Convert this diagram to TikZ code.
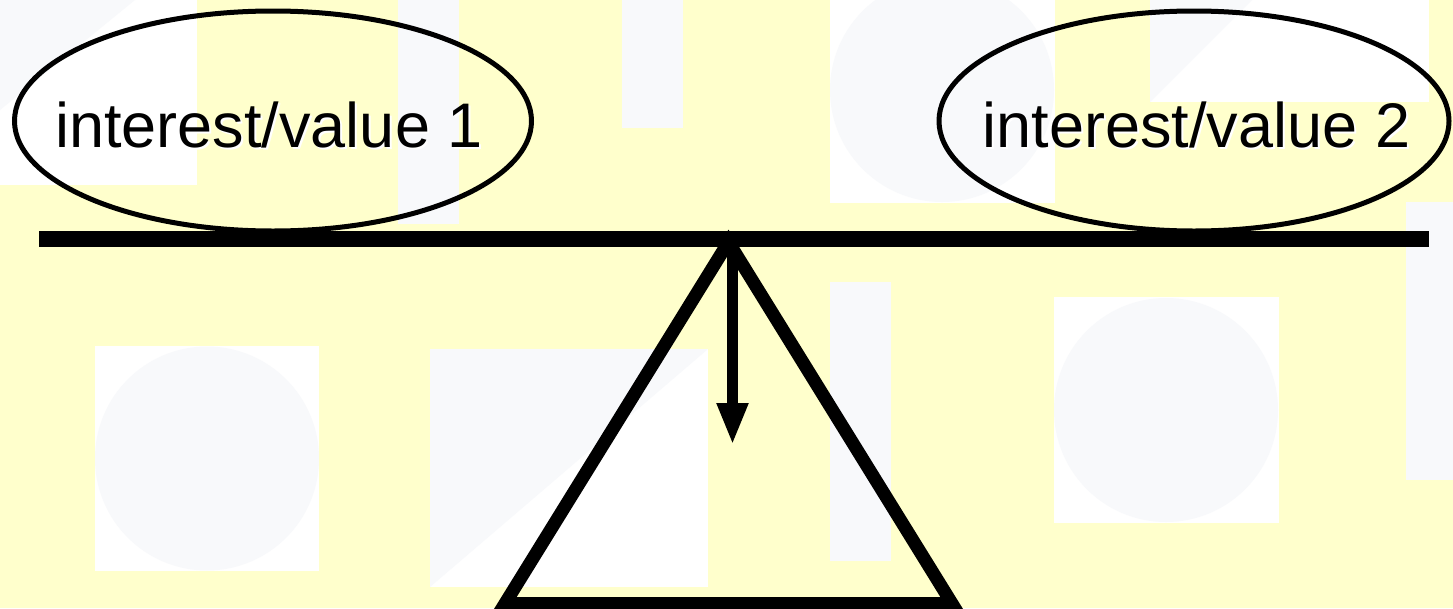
\documentclass[tikz,border=0pt]{standalone}
\usepackage{fontspec}
\setmainfont{Liberation Sans}
\usetikzlibrary{arrows.meta,shapes.geometric}
\definecolor{bgyellow}{RGB}{255,255,204}
\definecolor{tilegray}{RGB}{248,249,251}
\begin{document}
\begin{tikzpicture}[x=1pt,y=-1pt,
  whitetile/.style={fill=white,draw=none},
  graytile/.style={fill=tilegray,draw=none},
  pan/.style={ellipse,draw=black,line width=5pt,inner sep=0pt,minimum height=220pt},
  lbl/.style={inner sep=0pt,anchor=base,font=\fontsize{63pt}{70pt}\selectfont,text=black},
  lblshadow/.style={lbl,text=white},
  beamline/.style={line width=16pt,line cap=butt},
  fulcrum/.style={line width=13pt,line join=miter},
  forcearrow/.style={line width=11pt,-{Triangle[length=42pt,width=29pt]}}
]
\useasboundingbox (0,0) rectangle (1453,608);
% background
\fill[bgyellow] (0,0) rectangle (1453,608);
% tiles
\fill[whitetile] (0,0) rectangle (197,185);
\fill[graytile] (0,0) -- (135,0) -- (0,110) -- cycle;
\fill[graytile] (398,0) rectangle (459,224);
\fill[graytile] (622,0) rectangle (683,128);
\fill[whitetile] (830,0) rectangle (1055,203);
\begin{scope}
  \clip (830,0) rectangle (1055,203);
  \fill[graytile] (942,90) circle[radius=112];
\end{scope}
\fill[whitetile] (1150,0) rectangle (1429,102);
\fill[graytile] (1150,0) -- (1252,0) -- (1150,102) -- cycle;
\fill[graytile] (1406,202) rectangle (1453,480);
\fill[whitetile] (95,346) rectangle (319,571);
\fill[graytile] (207,458.5) circle[radius=112];
\fill[whitetile] (430,349) rectangle (708,587);
\fill[graytile] (430,349) -- (708,349) -- (430,587) -- cycle;
\fill[graytile] (830,282) rectangle (891,561);
\fill[whitetile] (1054,297) rectangle (1279,523);
\fill[graytile] (1166,410) circle[radius=112];
% pans
\node[pan,minimum width=517pt] (p1) at (273,121) {};
\node[pan,minimum width=510pt] (p2) at (1194,121) {};
\node[lblshadow] (t1s) at (271,149) {interest/value 1};
\node[lbl] (t1) at (269,147) {interest/value 1};
\node[lblshadow] (t2s) at (1198.5,149) {interest/value 2};
\node[lbl] (t2) at (1196.5,147) {interest/value 2};
% beam
\coordinate (bl) at (39,239);
\coordinate (br) at (1429,239);
\draw[beamline] (bl) -- (br);
% fulcrum
\coordinate (apex) at (728.5,242);
\coordinate (baser) at (952,603.5);
\coordinate (basel) at (505,603.5);
\draw[fulcrum] (apex) -- (baser) -- (basel) -- cycle;
% arrow
\coordinate (astart) at (732.5,240);
\coordinate (aend) at (732.5,445);
\draw[forcearrow] (astart) -- (aend);
\end{tikzpicture}
\end{document}
